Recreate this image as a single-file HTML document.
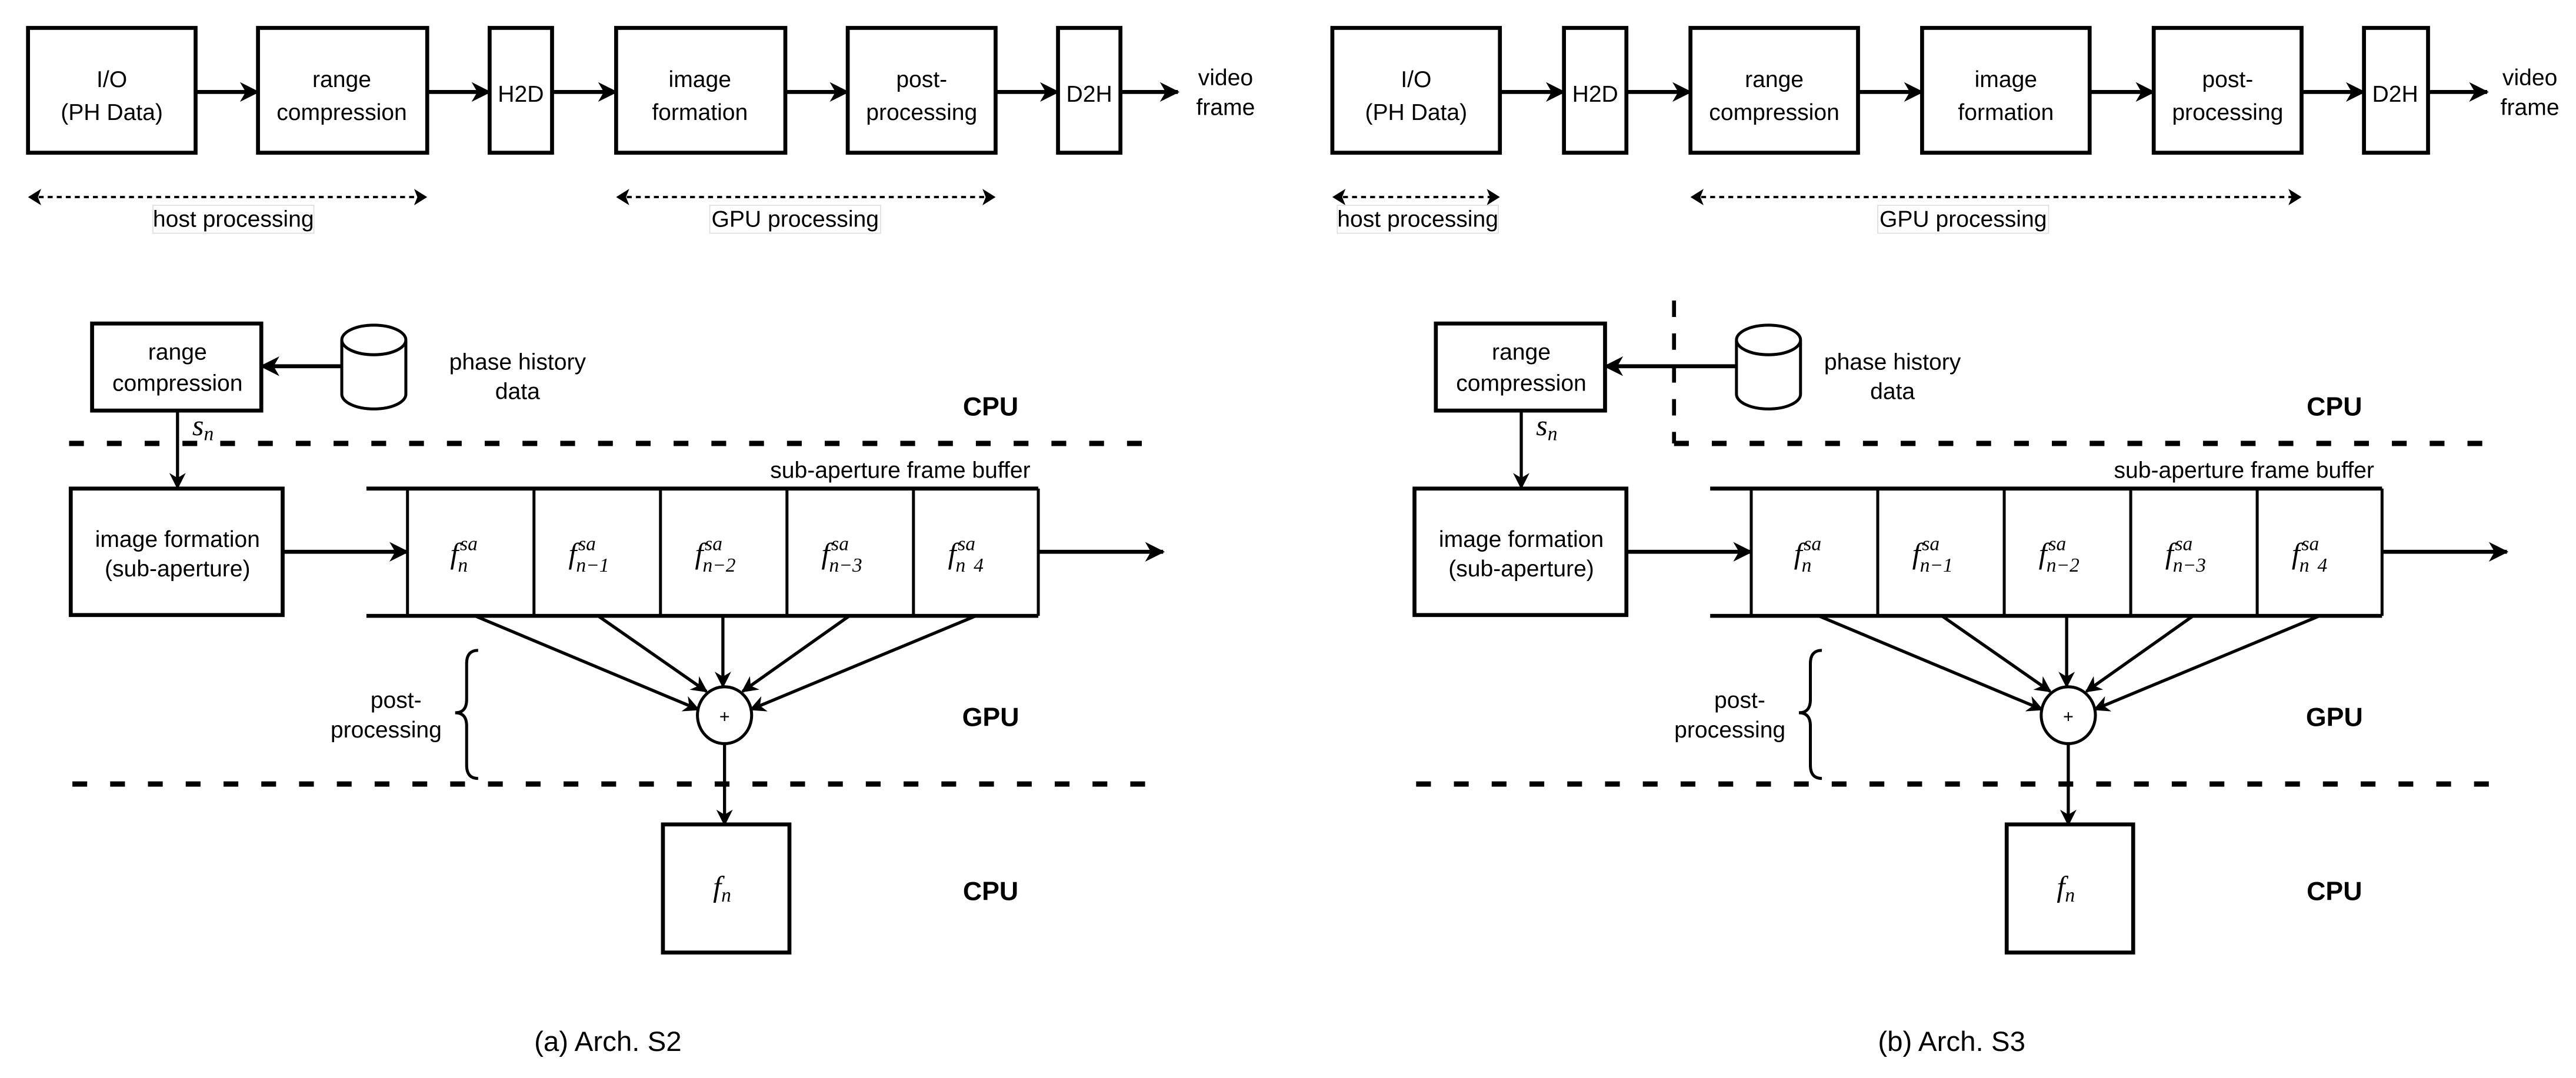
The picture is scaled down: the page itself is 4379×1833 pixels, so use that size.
<!DOCTYPE html>
<html><head><meta charset="utf-8"><style>
html,body{margin:0;padding:0;background:#fff;}
svg{display:block;}
text{font-family:"Liberation Sans",sans-serif;fill:#000;}
.t{font-size:14px;text-anchor:middle;}
.b{font-size:16px;font-weight:bold;text-anchor:middle;}
.m{font-family:"Liberation Serif",serif;font-style:italic;font-size:18px;}
.ms{font-family:"Liberation Serif",serif;font-style:italic;font-size:12px;}
.mn{font-family:"Liberation Serif",serif;font-size:12px;}
</style></head><body>
<svg width="4379" height="1833" viewBox="0 0 1568 656.4" xmlns="http://www.w3.org/2000/svg">
<defs>
<marker id="a" markerWidth="10" markerHeight="10" refX="9" refY="5" orient="auto" markerUnits="userSpaceOnUse"><path d="M0,0 L10,5 L0,10 L3,5 Z" fill="#000"/></marker>
<marker id="a2" markerWidth="12" markerHeight="12" refX="11" refY="6" orient="auto" markerUnits="userSpaceOnUse"><path d="M0,0 L12,6 L0,12 L3.5,6 Z" fill="#000"/></marker>
<marker id="d" markerWidth="8" markerHeight="10" refX="7" refY="5" orient="auto-start-reverse" markerUnits="userSpaceOnUse"><path d="M0,0 L8,5 L0,10 L2,5 Z" fill="#000"/></marker>
</defs>
<g fill="none" stroke="#000" stroke-width="2.4">
<rect x="17" y="17" width="102" height="76"/>
<rect x="157" y="17" width="103" height="76"/>
<rect x="298" y="17" width="38" height="76"/>
<rect x="375" y="17" width="103" height="76"/>
<rect x="516" y="17" width="90" height="76"/>
<rect x="644" y="17" width="38" height="76"/>
<rect x="811" y="17" width="102" height="76"/>
<rect x="952" y="17" width="38" height="76"/>
<rect x="1029" y="17" width="102" height="76"/>
<rect x="1170" y="17" width="102" height="76"/>
<rect x="1311" y="17" width="90" height="76"/>
<rect x="1439" y="17" width="39" height="76"/>
</g>
<g stroke="#000" stroke-width="2.4" marker-end="url(#a2)">
<line x1="119" y1="56" x2="157" y2="56"/>
<line x1="260" y1="56" x2="298" y2="56"/>
<line x1="336" y1="56" x2="375" y2="56"/>
<line x1="478" y1="56" x2="516" y2="56"/>
<line x1="606" y1="56" x2="644" y2="56"/>
<line x1="682" y1="56" x2="717" y2="56"/>
<line x1="913" y1="56" x2="952" y2="56"/>
<line x1="990" y1="56" x2="1029" y2="56"/>
<line x1="1131" y1="56" x2="1170" y2="56"/>
<line x1="1272" y1="56" x2="1311" y2="56"/>
<line x1="1401" y1="56" x2="1439" y2="56"/>
<line x1="1478" y1="56" x2="1514" y2="56"/>
</g>
<g stroke="#000" stroke-width="1.4" stroke-dasharray="3,2.5" marker-start="url(#d)" marker-end="url(#d)">
<line x1="18" y1="120" x2="259" y2="120"/>
<line x1="376" y1="120" x2="605" y2="120"/>
<line x1="812" y1="120" x2="912" y2="120"/>
<line x1="1030" y1="120" x2="1400" y2="120"/>
</g>
<g fill="#fff" stroke="#ddd" stroke-width="0.6">
<rect x="93" y="125" width="98" height="17"/>
<rect x="432" y="125" width="104" height="17"/>
<rect x="814" y="125" width="98" height="17"/>
<rect x="1143" y="125" width="104" height="17"/>
</g>
<g class="t">
<text class="t" x="68" y="53">I/O</text><text class="t" x="68" y="73">(PH Data)</text>
<text class="t" x="208" y="53">range</text><text class="t" x="208" y="73">compression</text>
<text class="t" x="317" y="62">H2D</text>
<text class="t" x="426" y="53">image</text><text class="t" x="426" y="73">formation</text>
<text class="t" x="561" y="53">post-</text><text class="t" x="561" y="73">processing</text>
<text class="t" x="663" y="62">D2H</text>
<text class="t" x="746" y="52">video</text><text class="t" x="746" y="70">frame</text>
<text class="t" x="142" y="138">host processing</text>
<text class="t" x="484" y="138">GPU processing</text>
<text class="t" x="862" y="53">I/O</text><text class="t" x="862" y="73">(PH Data)</text>
<text class="t" x="971" y="62">H2D</text>
<text class="t" x="1080" y="53">range</text><text class="t" x="1080" y="73">compression</text>
<text class="t" x="1221" y="53">image</text><text class="t" x="1221" y="73">formation</text>
<text class="t" x="1356" y="53">post-</text><text class="t" x="1356" y="73">processing</text>
<text class="t" x="1458" y="62">D2H</text>
<text class="t" x="1540" y="52">video</text><text class="t" x="1540" y="70">frame</text>
<text class="t" x="863" y="138">host processing</text>
<text class="t" x="1195" y="138">GPU processing</text>
</g>

<g id="p">
<g fill="none" stroke="#000" stroke-width="2.4">
<rect x="56" y="197" width="103" height="53"/>
<rect x="43" y="297.5" width="129" height="77"/>
<path d="M223,297.5 H632 M223,375 H632"/>
<rect x="403.5" y="502" width="77" height="78"/>
</g>
<g fill="none" stroke="#000" stroke-width="1.8">
<path d="M248,297.5 V375 M325,297.5 V375 M402,297.5 V375 M479,297.5 V375 M556,297.5 V375 M632,297.5 V375"/>
<ellipse cx="441" cy="435.5" rx="16.5" ry="17.3"/>
<path d="M291,396 Q284,396 284,404 V426 Q284,434 277,434 Q284,434 284,442 V466 Q284,474 291,474"/>
</g>
<g stroke="#000" stroke-width="2.4">
<line x1="172" y1="336" x2="248" y2="336" marker-end="url(#a2)"/>
<line x1="632" y1="336" x2="708" y2="336" marker-end="url(#a2)"/>
</g>
<g stroke="#000" stroke-width="1.9" marker-end="url(#a)">
<line x1="108" y1="250" x2="108" y2="297"/>
<line x1="289" y1="375" x2="425" y2="432"/>
<line x1="364" y1="375" x2="430" y2="421"/>
<line x1="440" y1="375" x2="440" y2="418"/>
<line x1="517" y1="375" x2="452" y2="421"/>
<line x1="594" y1="375" x2="457" y2="432"/>
<line x1="441" y1="453" x2="441" y2="502"/>
</g>
<text class="t" x="108" y="219">range</text>
<text class="t" x="108" y="238">compression</text>
<text class="t" x="108" y="333">image formation</text>
<text class="t" x="108" y="351">(sub-aperture)</text>
<text class="t" x="548" y="291">sub-aperture frame buffer</text>
<text class="t" x="241" y="431">post-</text>
<text class="t" x="235" y="449">processing</text>
<text x="441" y="440" style="font-size:11px;text-anchor:middle">+</text>
<text class="b" x="603" y="253">CPU</text>
<text class="b" x="603" y="442">GPU</text>
<text class="b" x="603" y="548">CPU</text>
<text class="m" x="117" y="265">s<tspan class="ms" dy="3">n</tspan></text>
<text class="m" x="274" y="343">f<tspan class="ms" dx="1" dy="-8">sa</tspan><tspan class="ms" dx="-12" dy="13">n</tspan></text>
<text class="m" x="346" y="343">f<tspan class="ms" dx="1" dy="-8">sa</tspan><tspan class="ms" dx="-12" dy="13">n</tspan><tspan class="mn">−1</tspan></text>
<text class="m" x="423" y="343">f<tspan class="ms" dx="1" dy="-8">sa</tspan><tspan class="ms" dx="-12" dy="13">n</tspan><tspan class="mn">−2</tspan></text>
<text class="m" x="500" y="343">f<tspan class="ms" dx="1" dy="-8">sa</tspan><tspan class="ms" dx="-12" dy="13">n</tspan><tspan class="mn">−3</tspan></text>
<text class="m" x="577" y="343">f<tspan class="ms" dx="1" dy="-8">sa</tspan><tspan class="ms" dx="-12" dy="13">n</tspan><tspan class="mn" dx="5">4</tspan></text>
<text class="m" x="434" y="546">f<tspan class="ms" dy="3">n</tspan></text>
</g>
<use href="#p" x="818" y="0"/>

<g id="cyl">
<path fill="none" stroke="#000" stroke-width="1.8" d="M208,207 V240 A19.5,9 0 0 0 247,240 V207 A19.5,9 0 0 0 208,207 A19.5,9 0 0 0 247,207"/>
<line x1="208" y1="223" x2="159" y2="223" stroke="#000" stroke-width="2.4" marker-end="url(#a2)"/>
<text class="t" x="315" y="225">phase history</text>
<text class="t" x="315" y="243">data</text>
</g>
<path fill="none" stroke="#000" stroke-width="1.8" d="M1057,207 V240 A19.5,9 0 0 0 1096,240 V207 A19.5,9 0 0 0 1057,207 A19.5,9 0 0 0 1096,207"/>
<line x1="1057" y1="223" x2="977" y2="223" stroke="#000" stroke-width="2.4" marker-end="url(#a2)"/>
<text class="t" x="1152" y="225">phase history</text>
<text class="t" x="1152" y="243">data</text>

<g stroke="#000" stroke-width="3.2" stroke-dasharray="9,14">
<line x1="42" y1="270" x2="697" y2="270"/>
<line x1="44" y1="477.4" x2="697" y2="477.4"/>
<line x1="1019" y1="270" x2="1515" y2="270"/>
<line x1="862" y1="477.4" x2="1515" y2="477.4"/>
<line x1="1019" y1="183" x2="1019" y2="270" stroke-width="2.4" stroke-dasharray="10,10"/>
</g>
<text x="370" y="640" style="font-size:17px;text-anchor:middle">(a) Arch. S2</text>
<text x="1188" y="640" style="font-size:17px;text-anchor:middle">(b) Arch. S3</text>
</svg>
</body></html>
